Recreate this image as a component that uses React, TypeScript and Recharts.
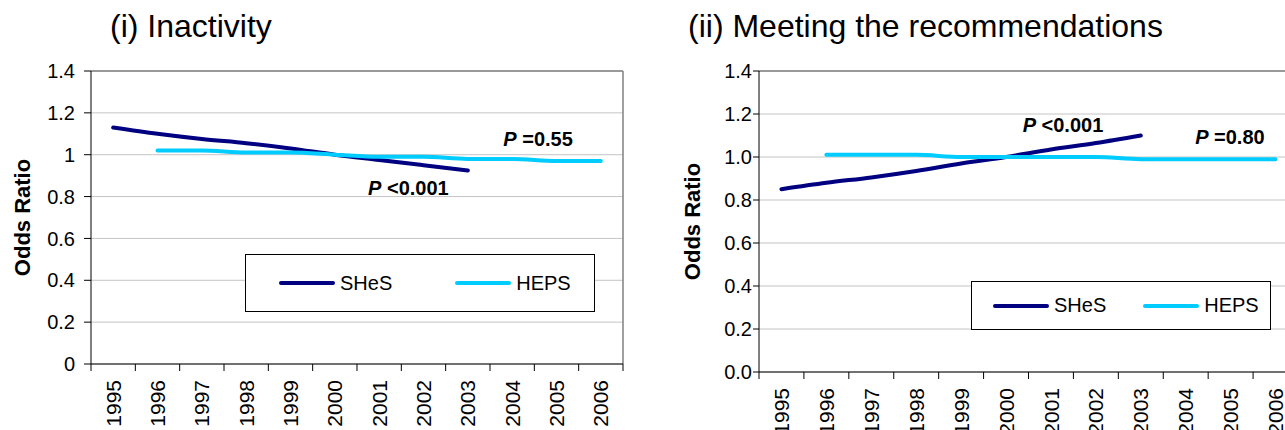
import React from "react";
import {
  LineChart,
  Line,
  XAxis,
  YAxis,
  CartesianGrid,
  ReferenceLine,
  ReferenceDot,
  Legend,
} from "recharts";

// survey years on the x axis
const years = [1995, 1996, 1997, 1998, 1999, 2000, 2001, 2002, 2003, 2004, 2005, 2006];
const yTicks = [0, 0.2, 0.4, 0.6, 0.8, 1, 1.2, 1.4];
const seriesOrder = ["SHeS", "HEPS"];

// (i) Inactivity
const inactivitySHeS = [1.13, 1.1, 1.075, 1.055, 1.03, 1.0, 0.975, 0.95, 0.925];
const inactivityHEPS = [null, 1.02, 1.02, 1.01, 1.01, 1.0, 0.99, 0.99, 0.98, 0.98, 0.97, 0.97];

// (ii) Meeting the recommendations
const meetingSHeS = [0.85, 0.88, 0.905, 0.935, 0.97, 1.0, 1.035, 1.065, 1.1];
const meetingHEPS = [null, 1.01, 1.01, 1.01, 1.0, 1.0, 1.0, 1.0, 0.99, 0.99, 0.99, 0.99];

const FONT = "'Liberation Sans', Arial, sans-serif";
const SHES_COLOR = "#000080";
const HEPS_COLOR = "#00CCFF";

// tick marks sit between the years, labels on the years
const boundaries = years.map((y) => y - 0.5).concat(years[years.length - 1] + 0.5);
const xTicks = [...boundaries, ...years].sort((a, b) => a - b);

const buildRows = (shes: (number | null)[], heps: (number | null)[]) =>
  years.map((year, i) => ({
    year,
    shes: shes[i] ?? null,
    heps: heps[i] ?? null,
  }));

const YearTick = (props: any) => {
  const { x, y, payload } = props;
  const v = payload.value;
  if (!Number.isInteger(v)) {
    return <line x1={x} y1={y} x2={x} y2={y + 7} stroke="#000" />;
  }
  const ty = y + 16;
  return (
    <text
      x={x}
      y={ty}
      transform={`rotate(-90 ${x} ${ty})`}
      textAnchor="end"
      dy="0.36em"
      fontSize={21}
      fontFamily={FONT}
      fill="#000"
    >
      {v}
    </text>
  );
};

const PLabel = (props: any) => {
  const { viewBox, text } = props;
  return (
    <text x={viewBox.x} y={viewBox.y} fontSize={20} fontWeight="bold" fontFamily={FONT} fill="#000">
      <tspan fontStyle="italic">P</tspan>
      <tspan> {text}</tspan>
    </text>
  );
};

interface PanelProps {
  title: string;
  rows: { year: number; shes: number | null; heps: number | null }[];
  left: number;
  width: number;
  marginRight: number;
  yAxisWidth: number;
  xAxisHeight: number;
  tickSize: number;
  tickMargin: number;
  labelX: number;
  yFormat: (v: number) => string;
  legendBox: { left: number; top: number; width: number; height: number; pad: number; gap: number };
  notes: { x: number; y: number; text: string }[];
  titleLeft: number;
}

const Panel: React.FC<PanelProps> = (p) => {
  const renderLegend = (lp: any) => {
    const items = [...(lp.payload || [])].sort(
      (a: any, b: any) => seriesOrder.indexOf(a.value) - seriesOrder.indexOf(b.value)
    );
    return (
      <div
        style={{
          boxSizing: "border-box",
          width: p.legendBox.width,
          height: p.legendBox.height,
          border: "1px solid #000",
          display: "flex",
          alignItems: "center",
          paddingLeft: p.legendBox.pad,
          fontFamily: FONT,
          fontSize: 20,
          color: "#000",
          background: "#fff",
        }}
      >
        {items.map((entry: any, i: number) => (
          <div
            key={entry.value}
            style={{ display: "flex", alignItems: "center", marginLeft: i === 0 ? 0 : p.legendBox.gap }}
          >
            <span
              style={{
                display: "inline-block",
                width: 56,
                height: 4,
                borderRadius: 2,
                background: entry.color,
                marginRight: 5,
              }}
            />
            <span>{entry.value}</span>
          </div>
        ))}
      </div>
    );
  };

  return (
    <>
      <div
        style={{
          position: "absolute",
          left: p.titleLeft,
          top: 10,
          fontSize: 32,
          lineHeight: "32px",
          fontFamily: FONT,
          color: "#000",
          whiteSpace: "nowrap",
        }}
      >
        {p.title}
      </div>
      <div style={{ position: "absolute", left: p.left, top: 0 }}>
        <LineChart
          width={p.width}
          height={430}
          data={p.rows}
          margin={{ top: 71, right: p.marginRight, bottom: 0, left: 0 }}
        >
          <CartesianGrid vertical={false} stroke="#c4c4c4" />
          <XAxis
            dataKey="year"
            type="number"
            domain={[1994.5, 2006.5]}
            ticks={xTicks}
            interval={0}
            height={p.xAxisHeight}
            tickLine={false}
            tickSize={0}
            tickMargin={0}
            axisLine={{ stroke: "#000" }}
            tick={<YearTick />}
          />
          <YAxis
            type="number"
            domain={[0, 1.4]}
            ticks={yTicks}
            interval={0}
            width={p.yAxisWidth}
            tickSize={p.tickSize}
            tickMargin={p.tickMargin}
            tickFormatter={p.yFormat}
            axisLine={{ stroke: "#000" }}
            tickLine={{ stroke: "#000" }}
            tick={{ fill: "#000", fontSize: 20, fontFamily: FONT }}
            label={{
              content: (lp: any) => {
                const vb = lp.viewBox;
                const cx = vb.x + p.labelX;
                const cy = vb.y + vb.height / 2;
                return (
                  <text
                    x={cx}
                    y={cy}
                    transform={`rotate(-90 ${cx} ${cy})`}
                    textAnchor="middle"
                    dy="0.36em"
                    fontSize={22}
                    fontWeight="bold"
                    fontFamily={FONT}
                    fill="#000"
                  >
                    Odds Ratio
                  </text>
                );
              },
            }}
          />
          <ReferenceLine y={1.4} stroke="#808080" strokeWidth={1.5} />
          <ReferenceLine x={2006.5} stroke="#808080" strokeWidth={1.5} />
          <Line
            name="SHeS"
            type="monotone"
            dataKey="shes"
            stroke={SHES_COLOR}
            strokeWidth={4}
            strokeLinecap="round"
            dot={false}
            activeDot={false}
            isAnimationActive={false}
          />
          <Line
            name="HEPS"
            type="monotone"
            dataKey="heps"
            stroke={HEPS_COLOR}
            strokeWidth={4}
            strokeLinecap="round"
            dot={false}
            activeDot={false}
            isAnimationActive={false}
          />
          {p.notes.map((n) => (
            <ReferenceDot
              key={n.text}
              x={n.x}
              y={n.y}
              r={0}
              fill="none"
              stroke="none"
              label={<PLabel text={n.text} />}
            />
          ))}
          <Legend
            layout="horizontal"
            verticalAlign="middle"
            align="center"
            content={renderLegend}
            wrapperStyle={{
              left: p.legendBox.left,
              top: p.legendBox.top,
              width: p.legendBox.width,
              height: p.legendBox.height,
            }}
          />
        </LineChart>
      </div>
    </>
  );
};

const App: React.FC = () => {
  const inactivityRows = buildRows(inactivitySHeS, inactivityHEPS);
  const meetingRows = buildRows(meetingSHeS, meetingHEPS);

  return (
    <div
      style={{
        position: "absolute",
        left: 0,
        top: 0,
        width: 1285,
        height: 430,
        overflow: "hidden",
        background: "#fff",
      }}
    >
      <Panel
        title="(i) Inactivity"
        titleLeft={110}
        rows={inactivityRows}
        left={0}
        width={640}
        marginRight={17}
        yAxisWidth={91}
        xAxisHeight={66}
        tickSize={7}
        tickMargin={9}
        labelX={22}
        yFormat={(v) => String(v)}
        legendBox={{ left: 245, top: 254, width: 350, height: 58, pad: 33, gap: 63 }}
        notes={[
          { x: 2003.8, y: 1.04, text: "=0.55" },
          { x: 2000.75, y: 0.807, text: "<0.001" },
        ]}
      />
      <Panel
        title="(ii) Meeting the recommendations"
        titleLeft={688}
        rows={meetingRows}
        left={660}
        width={650}
        marginRight={12}
        yAxisWidth={99}
        xAxisHeight={58}
        tickSize={6}
        tickMargin={1}
        labelX={32}
        yFormat={(v) => v.toFixed(1)}
        legendBox={{ left: 311, top: 281, width: 300, height: 49, pad: 21, gap: 37 }}
        notes={[
          { x: 2000.37, y: 1.116, text: "<0.001" },
          { x: 2004.21, y: 1.059, text: "=0.80" },
        ]}
      />
    </div>
  );
};

export default App;
